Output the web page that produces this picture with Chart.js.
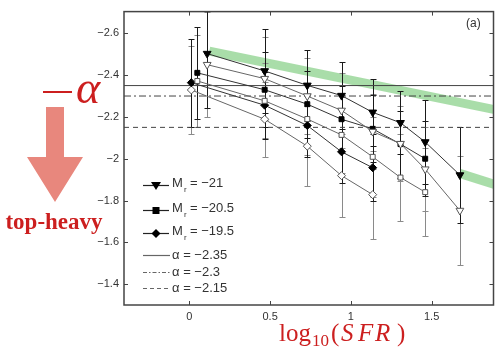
<!DOCTYPE html>
<html>
<head>
<meta charset="utf-8">
<script src="https://cdn.jsdelivr.net/npm/chart.js@4.4.0/dist/chart.umd.min.js"></script>
<style>
  html, body { margin: 0; padding: 0; background: #fff; overflow: hidden; }
  canvas { display: block; }
</style>
</head>
<body>
<canvas id="chart" width="499" height="351"></canvas>
<script>
// axis ticks
const xTicks = [0, 0.5, 1, 1.5];
const xTickLabels = ["0", "0.5", "1", "1.5"];
const yTicks = [-2.6, -2.4, -2.2, -2, -1.8, -1.6, -1.4];
const yTickLabels = ["\u22122.6", "\u22122.4", "\u22122.2", "\u22122", "\u22121.8", "\u22121.6", "\u22121.4"];

// log10(SFR) bins per magnitude
const triX = [0.11, 0.466, 0.73, 0.942, 1.135, 1.307, 1.46, 1.675];
const sqX = [0.049, 0.466, 0.73, 0.942, 1.135, 1.307, 1.46];
const diaX = [0.012, 0.466, 0.73, 0.942, 1.135];

// alpha values (filled / open) and their errors
const triFilled = [-2.503, -2.42, -2.351, -2.302, -2.222, -2.172, -2.08, -1.922];
const triFilledErr = [0.26, 0.2, 0.17, 0.16, 0.16, 0.15, 0.2, 0.23];
const triOpen = [-2.45, -2.383, -2.3, -2.231, -2.13, -2.072, -1.95, -1.752];
const triOpenErr = [0.25, 0.2, 0.18, 0.18, 0.18, 0.18, 0.2, 0.26];
const sqFilled = [-2.411, -2.33, -2.261, -2.189, -2.143, -2.07, -2.0];
const sqFilledErr = [0.22, 0.18, 0.16, 0.16, 0.16, 0.16, 0.18];
const sqOpen = [-2.372, -2.277, -2.19, -2.114, -2.009, -1.91, -1.84];
const sqOpenErr = [0.22, 0.18, 0.17, 0.18, 0.19, 0.21, 0.21];
const diaFilled = [-2.364, -2.256, -2.159, -2.033, -1.957];
const diaFilledErr = [0.21, 0.16, 0.15, 0.15, 0.16];
const diaOpen = [-2.329, -2.189, -2.06, -1.919, -1.828];
const diaOpenErr = [0.21, 0.18, 0.19, 0.2, 0.21];

// reference slopes
const alphaValues = [-2.35, -2.3, -2.15];
const alphaLabels = ["\u22122.35", "\u22122.3", "\u22122.15"];
const magLabels = ["\u221221", "\u221220.5", "\u221219.5"];

// green model bands
const bandUpperX = [0.123, 1.896];
const bandUpperY = [-2.515, -2.234];
const bandLowerX = [1.673, 1.896];
const bandLowerY = [-1.93, -1.875];

const X_MIN = -0.405, X_MAX = 1.883;
const Y_MIN = -2.704, Y_MAX = -1.3;
const RED = "#cc1f1f";

const zip = (xs, ys) => xs.map((x, i) => ({ x: x, y: ys[i] }));

function series(xs, ys, errs, style, rot, filled, radius) {
  return {
    data: zip(xs, ys),
    errors: errs,
    errColor: filled ? "#1a1a1a" : "#8a8a8a",
    showLine: true,
    borderColor: filled ? "#333" : "#666",
    borderWidth: 1,
    pointStyle: style,
    pointRotation: rot,
    pointRadius: radius,
    pointBorderWidth: 1,
    pointBackgroundColor: filled ? "#000" : "#fff",
    pointBorderColor: filled ? "#000" : "#555",
    order: 0,
  };
}

const alphaDashes = [[], [7, 3, 2, 3], [5, 4]];
const legendDashes = [[], [4, 2, 1.5, 2], [4, 3]];
const alphaSets = alphaValues.map((a, i) => ({
  data: [{ x: X_MIN, y: a }, { x: X_MAX, y: a }],
  showLine: true,
  borderColor: "#444",
  borderWidth: 1,
  borderDash: alphaDashes[i],
  pointRadius: 0,
  order: 1,
}));

const bandSets = [
  { data: zip(bandUpperX, bandUpperY), showLine: true, borderColor: "rgba(140,210,140,0.75)", borderWidth: 9, pointRadius: 0, order: 10 },
  { data: zip(bandLowerX, bandLowerY), showLine: true, borderColor: "rgba(140,210,140,0.75)", borderWidth: 9, pointRadius: 0, order: 10 },
];

const datasets = [
  series(triX, triFilled, triFilledErr, "triangle", 180, true, 4.5),
  series(triX, triOpen, triOpenErr, "triangle", 180, false, 4.5),
  series(sqX, sqFilled, sqFilledErr, "rect", 0, true, 3.5),
  series(sqX, sqOpen, sqOpenErr, "rect", 0, false, 3.5),
  series(diaX, diaFilled, diaFilledErr, "rectRot", 0, true, 4),
  series(diaX, diaOpen, diaOpenErr, "rectRot", 0, false, 4),
  ...alphaSets,
  ...bandSets,
];
const firstBandIndex = datasets.length - bandSets.length;

// error bars go above the green band, under lines and markers
const errorBars = {
  id: "errorBars",
  afterDatasetDraw(chart, args) {
    if (args.index !== firstBandIndex) return;
    const ctx = chart.ctx, area = chart.chartArea;
    const xs = chart.scales.x, ys = chart.scales.y;
    ctx.save();
    ctx.beginPath();
    ctx.rect(area.left, area.top, area.width, area.height);
    ctx.clip();
    const withErr = chart.data.datasets.filter((d) => d.errors);
    const sorted = withErr.filter((d) => d.errColor !== "#1a1a1a").concat(withErr.filter((d) => d.errColor === "#1a1a1a"));
    sorted.forEach((ds) => {
      ctx.strokeStyle = ds.errColor;
      ctx.lineWidth = 1;
      ds.data.forEach((p, i) => {
        const px = Math.round(xs.getPixelForValue(p.x)) + 0.5;
        const top = Math.round(ys.getPixelForValue(p.y - ds.errors[i])) + 0.5;
        const bot = Math.round(ys.getPixelForValue(p.y + ds.errors[i])) + 0.5;
        ctx.beginPath();
        ctx.moveTo(px, top); ctx.lineTo(px, bot);
        ctx.moveTo(px - 3, top); ctx.lineTo(px + 3, top);
        ctx.moveTo(px - 3, bot); ctx.lineTo(px + 3, bot);
        ctx.stroke();
      });
    });
    ctx.restore();
  },
};

function marker(ctx, style, x, y, r) {
  ctx.beginPath();
  if (style === "tri") {
    ctx.moveTo(x - r, y - r * 0.7); ctx.lineTo(x + r, y - r * 0.7); ctx.lineTo(x, y + r * 0.9);
  } else if (style === "sq") {
    ctx.rect(x - r, y - r, 2 * r, 2 * r);
  } else {
    ctx.moveTo(x, y - r); ctx.lineTo(x + r, y); ctx.lineTo(x, y + r); ctx.lineTo(x - r, y);
  }
  ctx.closePath();
  ctx.fill();
}

const decorations = {
  id: "decorations",
  afterDraw(chart) {
    const ctx = chart.ctx, a = chart.chartArea;
    const xs = chart.scales.x, ys = chart.scales.y;
    ctx.save();
    // frame and inward ticks
    ctx.strokeStyle = "#444";
    ctx.lineWidth = 1.5;
    ctx.strokeRect(a.left, a.top, a.right - a.left, a.bottom - a.top);
    ctx.lineWidth = 1;
    ctx.beginPath();
    xTicks.forEach((v) => {
      const px = Math.round(xs.getPixelForValue(v)) + 0.5;
      ctx.moveTo(px, a.bottom); ctx.lineTo(px, a.bottom - 4);
      ctx.moveTo(px, a.top); ctx.lineTo(px, a.top + 4);
    });
    yTicks.forEach((v) => {
      const py = Math.round(ys.getPixelForValue(v)) + 0.5;
      ctx.moveTo(a.left, py); ctx.lineTo(a.left + 4, py);
      ctx.moveTo(a.right, py); ctx.lineTo(a.right - 4, py);
    });
    ctx.stroke();

    // panel tag
    ctx.fillStyle = "#333";
    ctx.font = "12px 'Liberation Sans', Arial, sans-serif";
    ctx.textBaseline = "middle";
    ctx.fillText("(a)", 466, 24);

    // legend
    const rowsM = [185, 210, 233];
    const styles = ["tri", "sq", "dia"];
    const radii = [5, 3.5, 4.5];
    rowsM.forEach((y, i) => {
      ctx.strokeStyle = "#222";
      ctx.lineWidth = 1.2;
      ctx.setLineDash([]);
      ctx.beginPath(); ctx.moveTo(143, y + 0.5); ctx.lineTo(169, y + 0.5); ctx.stroke();
      ctx.fillStyle = "#000";
      marker(ctx, styles[i], 156, y + 0.5, radii[i]);
      ctx.fillStyle = "#333";
      ctx.font = "13px 'Liberation Sans', Arial, sans-serif";
      ctx.fillText("M", 172, y - 2);
      ctx.font = "8px 'Liberation Sans', Arial, sans-serif";
      ctx.fillText("r", 184, y + 5);
      ctx.font = "13px 'Liberation Sans', Arial, sans-serif";
      ctx.fillText("= " + magLabels[i], 190, y - 2);
    });
    const rowsA = [255, 272, 288];
    rowsA.forEach((y, i) => {
      ctx.strokeStyle = "#666";
      ctx.lineWidth = 1.2;
      ctx.setLineDash(legendDashes[i]);
      ctx.beginPath(); ctx.moveTo(143, y + 0.5); ctx.lineTo(170, y + 0.5); ctx.stroke();
      ctx.setLineDash([]);
      ctx.fillStyle = "#333";
      ctx.font = "13px 'Liberation Sans', Arial, sans-serif";
      ctx.fillText("\u03b1 = " + alphaLabels[i], 172, y);
    });

    // red annotations
    ctx.fillStyle = RED;
    ctx.fillRect(43, 91, 29, 2);
    ctx.textBaseline = "alphabetic";
    ctx.font = "italic 46px 'Liberation Serif', 'DejaVu Serif', serif";
    ctx.fillText("\u03b1", 76, 103);

    ctx.font = "bold 23px 'Liberation Serif', 'DejaVu Serif', serif";
    ctx.textAlign = "center";
    ctx.fillText("top-heavy", 54, 229);
    ctx.textAlign = "left";

    ctx.fillStyle = "#e8877d";
    ctx.beginPath();
    ctx.moveTo(46, 107); ctx.lineTo(64, 107); ctx.lineTo(64, 157);
    ctx.lineTo(83, 157); ctx.lineTo(55, 202); ctx.lineTo(27, 157);
    ctx.lineTo(46, 157); ctx.closePath();
    ctx.fill();

    ctx.fillStyle = RED;
    const serif = "'Liberation Serif', 'DejaVu Serif', serif";
    ctx.font = "25px " + serif;
    ctx.fillText("log", 279, 341);
    ctx.font = "17px " + serif;
    ctx.fillText("10", 312, 346);
    ctx.font = "25px " + serif;
    ctx.fillText("(", 331, 341);
    ctx.font = "italic 25px " + serif;
    ctx.fillText("S", 341, 341);
    ctx.fillText("F", 358, 341);
    ctx.fillText("R", 375, 341);
    ctx.font = "25px " + serif;
    ctx.fillText(")", 397, 341);
    ctx.restore();
  },
};

new Chart(document.getElementById("chart"), {
  type: "scatter",
  data: { datasets: datasets },
  options: {
    responsive: false,
    animation: false,
    devicePixelRatio: 1,
    layout: { padding: { left: 0, top: 8, right: 2, bottom: 0 } },
    plugins: { legend: { display: false }, tooltip: { enabled: false } },
    scales: {
      x: {
        type: "linear",
        min: X_MIN,
        max: X_MAX,
        afterBuildTicks: (s) => { s.ticks = xTicks.map((v) => ({ value: v })); },
        afterFit: (s) => { s.height = 46; },
        grid: { display: false, drawTicks: false },
        border: { display: false },
        ticks: {
          autoSkip: false,
          maxRotation: 0,
          padding: 5,
          color: "#333",
          font: { family: "'Liberation Sans', Arial, sans-serif", size: 11 },
          callback: (v, i) => xTickLabels[i],
        },
      },
      y: {
        type: "linear",
        reverse: true,
        min: Y_MIN,
        max: Y_MAX,
        afterBuildTicks: (s) => { s.ticks = yTicks.map((v) => ({ value: v })); },
        afterFit: (s) => { s.width = 124; },
        grid: { display: false, drawTicks: false },
        border: { display: false },
        ticks: {
          autoSkip: false,
          padding: 5,
          color: "#333",
          font: { family: "'Liberation Sans', Arial, sans-serif", size: 11 },
          callback: (v, i) => yTickLabels[i],
        },
      },
    },
  },
  plugins: [errorBars, decorations],
});
</script>
</body>
</html>
